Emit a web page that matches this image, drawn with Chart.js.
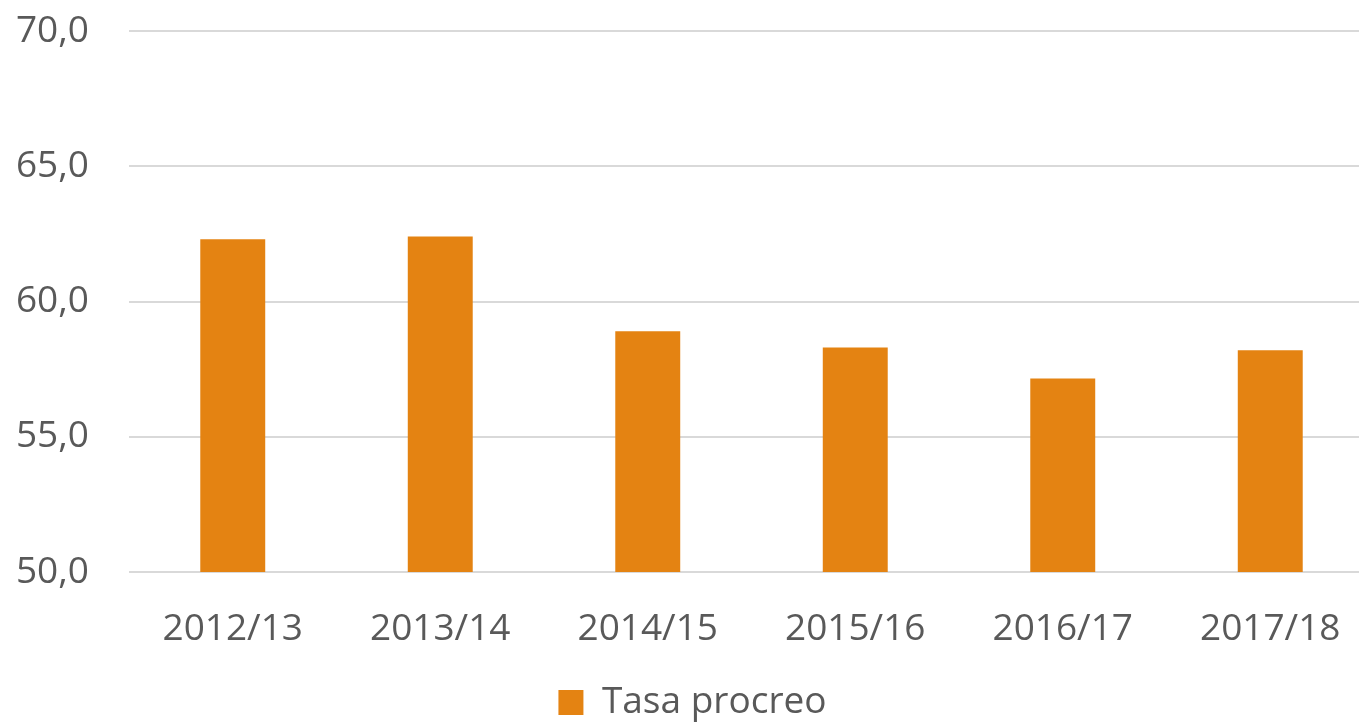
<!DOCTYPE html>
<html>
<head>
<meta charset="utf-8">
<script src="https://cdn.jsdelivr.net/npm/chart.js@4"></script>
<style>
    html, body { margin: 0; padding: 0; background: #fff; overflow: hidden; }
    #wrap { width: 1375px; height: 722px; }
</style>
</head>
<body>
<div id="wrap"><canvas id="barChart"></canvas></div>
<script>
const categories = ['2012/13', '2013/14', '2014/15', '2015/16', '2016/17', '2017/18'];
const tasaProcreo = [62.3, 62.4, 58.9, 58.3, 57.15, 58.2];
const seriesLabel = 'Tasa procreo';

const textColor = '#595959';
const fontFamily = "'Open Sans', sans-serif";

const ctx = document.getElementById('barChart').getContext('2d');
window.chart = new Chart(ctx, {
    type: 'bar',
    data: {
        labels: categories,
        datasets: [{
            label: seriesLabel,
            data: tasaProcreo,
            backgroundColor: '#E48312',
            borderWidth: 0,
            barPercentage: 0.313,
            categoryPercentage: 1
        }]
    },
    options: {
        responsive: true,
        maintainAspectRatio: false,
        animation: false,
        layout: { padding: { left: 11, top: 12, right: 1, bottom: -9 } },
        scales: {
            x: {
                grid: { display: false, drawTicks: false },
                border: { display: false },
                ticks: { color: textColor, font: { family: fontFamily, size: 37 }, padding: 35 },
                afterFit: (scale) => {
                    scale.height = 108;
                    scale.paddingLeft = 0;
                    scale.paddingRight = 0;
                }
            },
            y: {
                min: 50,
                max: 70,
                grid: { color: '#D9D9D9', lineWidth: 2, drawTicks: false },
                border: { display: false },
                ticks: {
                    stepSize: 5,
                    color: textColor,
                    font: { family: fontFamily, size: 37 },
                    padding: 40,
                    callback: (v) => v.toFixed(1).replace('.', ',')
                },
                afterFit: (scale) => {
                    scale.width = 118;
                    scale.paddingTop = 31;
                    scale.paddingBottom = 0;
                }
            }
        },
        plugins: {
            legend: {
                position: 'bottom',
                labels: {
                    color: textColor,
                    font: { family: fontFamily, size: 37 },
                    boxWidth: 25,
                    boxHeight: 25,
                    padding: 4
                }
            },
            tooltip: { enabled: false }
        }
    }
});
</script>
</body>
</html>
